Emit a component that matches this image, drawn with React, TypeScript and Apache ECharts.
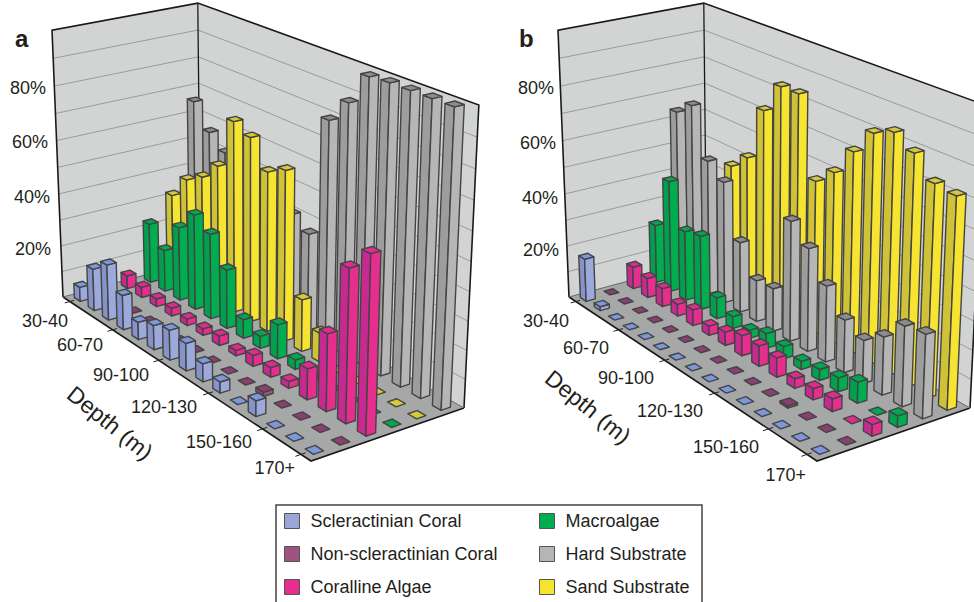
import React, { useEffect, useRef } from "react";
import * as echarts from "echarts";

const depthLabels = ["30-40","40-50","50-60","60-70","70-80","80-90","90-100","100-110","110-120","120-130","130-140","140-150","150-160","160-170","170+"];
const percentTicks = [80, 60, 40, 20];
const labelledDepths = [0, 3, 6, 9, 12, 14];

const coralA = [5.5,16,21,13,6.5,9,11,10,6.5,4,0,5.5,0,0,0];
const nonCoralA = [0,0,0,0,0,0,0,0,0,0,1.5,0,0,0,0];
const corallineA = [5,4,3,3,2.5,2.5,3.5,2,4,3.5,2.5,11,27,52.5,60.5];
const macroA = [23,16,28,36,32,22,7,4.5,12.5,3.5,0,0,0,0,0];
const sandA = [32,41,45,52,71,68,58.5,62,19,10.5,0,0,0,0,0];
const hardA = [66,57,52,44,40,42,41,37,80,88.5,99.5,100,100,100,100];

const coralB = [16.5,1.5,0,0,0,0,0,0,0,0,0,0,0,0,0];
const nonCoralB = [0,0,0,0,0,0,0,0,0,0,0,0.8,0,0,0];
const corallineB = [8.5,7.5,7,4.5,6,3.5,5,7.5,7.5,7,3.5,4,4.5,0,4];
const macroB = [22.5,42.5,26.5,28,8,4.5,3,5.5,4.5,3,4,5,7.5,0,4];
const hardB = [64,69,51,46,26.5,15.5,16,44,37.5,27.5,19,15.5,20.5,28,29];
const sandB = [28,30,47,53,73,84,84,56,62,72,81,84,80,73,72];

const NAMES = { coral: "Scleractinian Coral", non: "Non-scleractinian Coral", alg: "Coralline Algae", mac: "Macroalgae", hard: "Hard Substrate", sand: "Sand Substrate" };
const FACES: any = {
  [NAMES.coral]: { legend: "#9AA6D6", right: "#9CA9DB", left: "#8494CA", top: "#7C97DC" },
  [NAMES.non]: { legend: "#A0527F", right: "#A0527F", left: "#8A4570", top: "#8A3F6E" },
  [NAMES.alg]: { legend: "#E62E8E", right: "#E62E8E", left: "#C62A90", top: "#DD2C8E" },
  [NAMES.mac]: { legend: "#00AC50", right: "#00AE50", left: "#00A04E", top: "#00A850" },
  [NAMES.hard]: { legend: "#B5B5B5", right: "#B6B6B6", left: "#9D9D9D", top: "#8C8C8C" },
  [NAMES.sand]: { legend: "#F6E431", right: "#F6E431", left: "#CFC236", top: "#D8C93A" },
};

const panelA = [[NAMES.coral, coralA],[NAMES.non, nonCoralA],[NAMES.alg, corallineA],[NAMES.mac, macroA],[NAMES.sand, sandA],[NAMES.hard, hardA]] as [string, number[]][];
const panelB = [[NAMES.coral, coralB],[NAMES.non, nonCoralB],[NAMES.alg, corallineB],[NAMES.mac, macroB],[NAMES.hard, hardB],[NAMES.sand, sandB]] as [string, number[]][];

// Perspective box of panel a; panel b is the same box moved right.
const FLOOR = [[63,297],[311,461],[464,408],[200.5,260]];
const VANISH = [248.6, 4803];
const LAMBDA = -0.0559;
const BAR_D = 0.42, BAR_S = 0.38, ROWS = 6;

function makeCamera(dx: number) {
  const [[x0,y0],[x1,y1],[x2,y2],[x3,y3]] = FLOOR;
  const dx1=x1-x2, dx2=x3-x2, sx=x0-x1+x2-x3, dy1=y1-y2, dy2=y3-y2, sy=y0-y1+y2-y3;
  const den=dx1*dy2-dx2*dy1;
  const g=(sx*dy2-dx2*sy)/den, h=(dx1*sy-sx*dy1)/den;
  const a=x1-x0+g*x1, b=x3-x0+h*x3, d=y1-y0+g*y1, e=y3-y0+h*y3;
  return (u: number, v: number, t: number) => {
    const w=g*u+h*v+1+LAMBDA*t;
    return [(a*u+b*v+x0+LAMBDA*VANISH[0]*t)/w+dx,(d*u+e*v+y0+LAMBDA*VANISH[1]*t)/w];
  };
}

function barRenderer(project: any, row: number, colors: any) {
  return (_p: any, api: any) => {
    const cs = _p.coordSys;
    const pt = api.coord([api.value(0), api.value(1)]);
    const u = (pt[0]-cs.x)/cs.width;
    const t = (cs.y+cs.height-pt[1])/cs.height;
    const cw = BAR_D/15/2, sw = BAR_S/ROWS/2, v = (row+0.5)/ROWS;
    const u0=u-cw,u1=u+cw,v0=v-sw,v1=v+sw;
    const edge = { stroke: "#444", lineWidth: 1.4, lineJoin: "round" };
    const poly = (pts: number[][], fill: string) => ({ type: "polygon", shape: { points: pts }, style: { fill, ...edge } });
    const children: any[] = [];
    if (t > 0) {
      children.push(poly([project(u0,v0,0),project(u1,v0,0),project(u1,v0,t),project(u0,v0,t)], colors.left));
      children.push(poly([project(u1,v0,0),project(u1,v1,0),project(u1,v1,t),project(u1,v0,t)], colors.right));
    }
    children.push(poly([project(u0,v0,t),project(u1,v0,t),project(u1,v1,t),project(u0,v1,t)], colors.top));
    return { type: "group", children };
  };
}

const TEXT = "#231f20";
const FONT = "Liberation Sans";
const txt = (text: string, x: number, y: number, extra: any = {}) => ({
  type: "text", x, y, z: 1, silent: true,
  style: { text, fill: TEXT, font: `18px "${FONT}"`, textAlign: "right", textVerticalAlign: "middle", ...extra },
});

function boxGraphics(project: any, depthPos: number[][], pctPos: number[][], depthTitle: number[], letter: string, letterX: number) {
  const els: any[] = [];
  const floorPts = [project(0,0,0),project(1,0,0),project(1,1,0),project(0,1,0)];
  const poly = (pts: number[][], fill: string) => ({ type: "polygon", z: -3, silent: true, shape: { points: pts }, style: { fill, stroke: "none" } });
  els.push(poly([project(0,0,0),project(0,1,0),project(0,1,1),project(0,0,1)], "#D2D4D3"));
  els.push(poly([project(0,1,0),project(1,1,0),project(1,1,1),project(0,1,1)], "#D2D4D3"));
  els.push(poly(floorPts, "#A6A8A7"));
  const line = (pts: number[][], stroke: string, lineWidth: number, z = -2) => ({ type: "polyline", z, silent: true, shape: { points: pts }, style: { stroke, lineWidth, fill: "none" } });
  for (let p = 10; p <= 90; p += 10) {
    els.push(line([project(0,0,p/100),project(0,1,p/100),project(1,1,p/100)], "#9A9C9B", 1));
  }
  els.push(line([project(0,0,0),project(0,0,1),project(0,1,1),project(1,1,1),project(1,1,0)], "#1a1a1a", 1.6));
  els.push(line([project(0,1,0),project(0,1,1)], "#1a1a1a", 1.3));
  els.push(line([project(0,0,0),project(1,0,0),project(1,1,0)], "#1a1a1a", 1.6));
  els.push(line([project(0,0,0),project(0,1,0)], "#666", 1));
  els.push(line([project(0,1,0),project(1,1,0)], "#666", 1));
  labelledDepths.forEach((c, i) => {
    const u = (c+0.5)/15;
    els.push(line([project(u,-0.035,0),project(u,0.03,0)], "#222", 1, 1));
    els.push(txt(depthLabels[c], depthPos[i][0], depthPos[i][1]));
  });
  percentTicks.forEach((p, i) => els.push(txt(p + "%", pctPos[i][0], pctPos[i][1])));
  const title = txt("Depth (m)", depthTitle[0], depthTitle[1], { textAlign: "center", font: `23px "${FONT}"` });
  (title as any).rotation = -39*Math.PI/180;
  els.push(title);
  els.push(txt(letter, letterX, 38, { textAlign: "left", font: `bold 24px "${FONT}"` }));
  return els;
}

export default function App() {
  const ref = useRef<HTMLDivElement>(null);
  useEffect(() => {
    document.body.style.margin = "0";
    const chart = echarts.init(ref.current!, null, { renderer: "svg" });
    const camA = makeCamera(0), camB = makeCamera(506);
    const mk = (panel: [string, number[]][], project: any, idx: number) =>
      panel.map(([name, vals], row) => ({ name, vals, row })).reverse().map(({ name, vals, row }) => ({
        type: "custom", name, xAxisIndex: idx, yAxisIndex: idx, clip: false, silent: true,
        itemStyle: { color: FACES[name].legend },
        encode: { x: 0, y: 1 },
        data: vals.map((v, i) => [i, v]),
        renderItem: barRenderer(project, row, FACES[name]),
      }));
    const legendBase = {
      orient: "vertical", top: 507, height: 115, itemWidth: 15, itemHeight: 15, itemGap: 15, selectedMode: false, icon: "rect",
      itemStyle: { borderColor: "#555", borderWidth: 1 },
      textStyle: { fontFamily: FONT, fontSize: 18, color: TEXT, padding: [0,0,0,6] },
    };
    const graphics = [
      ...boxGraphics(camA, [[68,321],[103,345],[149,375],[197,407],[252,442],[295,468]], [[46,88],[48,142],[50,197],[51,249]], [110,423], "a", 15),
      ...boxGraphics(camB, [[569,321],[609,348],[654,378],[703,411],[759,447],[806,475]], [[554,88],[556,143],[558,198],[559,250]], [588,407], "b", 519),
      { type: "rect", z: -1, silent: true, shape: { x: 276, y: 505, width: 426, height: 110 }, style: { fill: "#fff", stroke: "#444", lineWidth: 1.5 } },
    ];
    chart.setOption({
      animation: false,
      backgroundColor: "#fff",
      grid: [
        { left: 0, top: 0, width: 400, height: 400, show: false },
        { left: 0, top: 0, width: 400, height: 400, show: false },
      ],
      xAxis: [0, 1].map((gridIndex) => ({ type: "category", gridIndex, data: depthLabels, show: false })),
      yAxis: [0, 1].map((gridIndex) => ({ type: "value", gridIndex, min: 0, max: 100, interval: 20, show: false })),
      legend: [
        { ...legendBase, left: 279, data: [NAMES.coral, NAMES.non, NAMES.alg] },
        { ...legendBase, left: 534, data: [NAMES.mac, NAMES.hard, NAMES.sand] },
      ],
      graphic: { elements: graphics },
      series: [...mk(panelA, camA, 0), ...mk(panelB, camB, 1)],
    });
    return () => chart.dispose();
  }, []);
  return <div ref={ref} style={{ position: "fixed", left: 0, top: 0, width: 974, height: 602 }} />;
}
